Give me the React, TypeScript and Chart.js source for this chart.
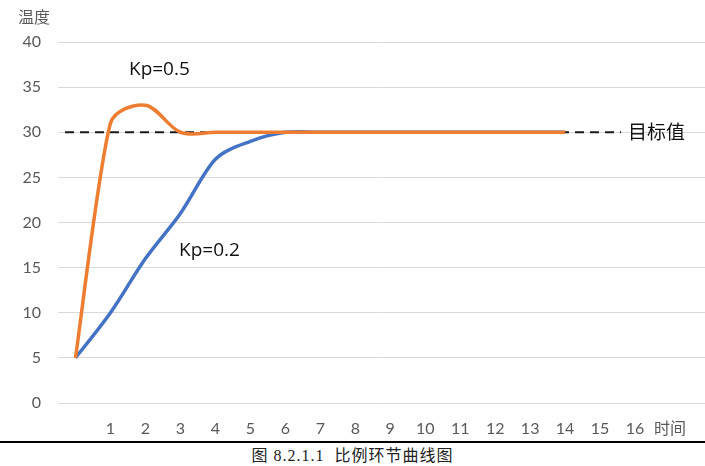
import React, { useEffect, useRef } from "react";
import { Chart, registerables } from "chart.js";

Chart.register(...registerables);

const timeSteps = [0, 1, 2, 3, 4, 5, 6, 7, 8, 9, 10, 11, 12, 13, 14];
const kp05Values = [5, 31, 33, 30, 30, 30, 30, 30, 30, 30, 30, 30, 30, 30, 30];
const kp02Values = [5, 10, 16, 21, 27, 29, 30, 30, 30, 30, 30, 30, 30, 30, 30];
const targetX = [-0.3, 15.6];
const targetValue = 30;
const xTickValues = [1, 2, 3, 4, 5, 6, 7, 8, 9, 10, 11, 12, 13, 14, 15, 16, 17];
const xAxisLabel = "时间";
const yAxisLabel = "温度";
const kp05Label = "Kp=0.5";
const kp02Label = "Kp=0.2";
const targetLabel = "目标值";
const caption = "图 8.2.1.1  比例环节曲线图";

const TICK_FONT = 'Lato, "Noto Sans CJK SC", sans-serif';
const NOTE_FONT = '"Open Sans", "Noto Sans CJK SC", sans-serif';

// Excel-like smoothing: control vectors (next - prev)/6, shortened on a side whose segment is short
const smoothPlugin = {
  id: "excelSmooth",
  beforeDatasetsDraw(chart: any) {
    chart.data.datasets.forEach((ds: any, di: number) => {
      if (!ds.excelSmooth) return;
      const meta = chart.getDatasetMeta(di);
      const pts = meta.data;
      for (let i = 0; i < pts.length; i++) {
        const p = pts[i];
        const prev = pts[i - 1] || p;
        const next = pts[i + 1] || p;
        const dx = (next.x - prev.x) / 6;
        const dy = (next.y - prev.y) / 6;
        const d02 = Math.hypot(next.x - prev.x, next.y - prev.y) || 1;
        const d01 = Math.hypot(p.x - prev.x, p.y - prev.y);
        const d12 = Math.hypot(next.x - p.x, next.y - p.y);
        const fa = Math.min(1, (2 * d01) / d02);
        const fb = Math.min(1, (2 * d12) / d02);
        p.cp1x = p.x - dx * fa;
        p.cp1y = p.y - dy * fa;
        p.cp2x = p.x + dx * fb;
        p.cp2y = p.y + dy * fb;
      }
      if (meta.dataset) meta.dataset._pointsUpdated = true;
    });
  },
};

const notesPlugin = {
  id: "notes",
  afterDatasetsDraw(chart: any) {
    const { ctx, scales } = chart;
    const xs = scales.x;
    const ys = scales.y;
    ctx.save();
    ctx.fillStyle = "#595959";
    ctx.font = '16px "Noto Sans CJK SC", sans-serif';
    ctx.textAlign = "center";
    ctx.textBaseline = "middle";
    ctx.fillText(yAxisLabel, 34, chart.chartArea.top - 25);

    ctx.fillStyle = "#111";
    ctx.font = "19px " + NOTE_FONT;
    ctx.fillText(kp05Label, xs.getPixelForValue(2.4), ys.getPixelForValue(36.9));
    ctx.fillText(kp02Label, xs.getPixelForValue(3.83), ys.getPixelForValue(16.9));
    ctx.textAlign = "left";
    ctx.font = '19px "Noto Sans CJK SC", sans-serif';
    ctx.fillText(targetLabel, xs.getPixelForValue(15.8), ys.getPixelForValue(targetValue));
    ctx.restore();
  },
};

export default function App() {
  const ref = useRef<HTMLCanvasElement>(null);
  useEffect(() => {
    if (!ref.current) return;
    const chart = new Chart(ref.current, {
      type: "line",
      data: {
        datasets: [
          {
            label: "Kp=0.5",
            data: timeSteps.map((t, i) => ({ x: t, y: kp05Values[i] })),
            borderColor: "#ED7D31",
            borderWidth: 3.5,
            pointRadius: 0,
            tension: 0.4,
            excelSmooth: true,
            fill: false,
            order: 0,
          } as any,
          {
            label: "目标值",
            data: targetX.map((t) => ({ x: t, y: targetValue })),
            borderColor: "#1a1a1a",
            borderWidth: 2,
            borderDash: [9, 6],
            pointRadius: 0,
            tension: 0,
            fill: false,
            order: 1,
          },
          {
            label: "Kp=0.2",
            data: timeSteps.map((t, i) => ({ x: t, y: kp02Values[i] })),
            borderColor: "#4472C4",
            borderWidth: 3.5,
            pointRadius: 0,
            tension: 0.4,
            excelSmooth: true,
            fill: false,
            order: 2,
          } as any,
        ],
      },
      options: {
        responsive: false,
        animation: false,
        devicePixelRatio: 1,
        layout: { padding: { top: 42, right: 0, left: 0, bottom: 0 } },
        plugins: { legend: { display: false }, tooltip: { enabled: false }, title: { display: false } },
        scales: {
          x: {
            type: "linear",
            min: -0.5,
            max: 18,
            afterBuildTicks: (scale: any) => {
              scale.ticks = xTickValues.map((v) => ({ value: v }));
            },
            afterFit: (scale: any) => {
              scale.height = 38;
            },
            grid: { display: false, drawTicks: false },
            border: { display: false },
            ticks: {
              autoSkip: false,
              maxRotation: 0,
              padding: 16,
              color: "#595959",
              font: { family: TICK_FONT, size: 16 },
              callback: (v: any) => (v === 17 ? xAxisLabel : String(v)),
            },
          },
          y: {
            min: 0,
            max: 40,
            afterFit: (scale: any) => {
              scale.width = 58;
            },
            grid: { color: "#d9d9d9", lineWidth: 1, drawTicks: false },
            border: { display: false },
            ticks: {
              stepSize: 5,
              padding: 17,
              color: "#595959",
              font: { family: TICK_FONT, size: 16 },
            },
          },
        },
      },
      plugins: [smoothPlugin, notesPlugin],
    });
    return () => chart.destroy();
  }, []);

  return (
    <div style={{ position: "absolute", left: 0, top: 0, width: 705, height: 466, background: "#fff" }}>
      <canvas ref={ref} width={705} height={441} style={{ display: "block" }} />
      <div
        style={{
          borderTop: "2px solid #000",
          height: 23,
          paddingTop: 2,
          boxSizing: "border-box",
          lineHeight: "21px",
          textAlign: "center",
          fontFamily: '"Liberation Serif", "Noto Sans CJK SC", serif',
          fontSize: 16,
          letterSpacing: 1,
          color: "#222",
          whiteSpace: "pre",
        }}
      >
        {caption}
      </div>
    </div>
  );
}
